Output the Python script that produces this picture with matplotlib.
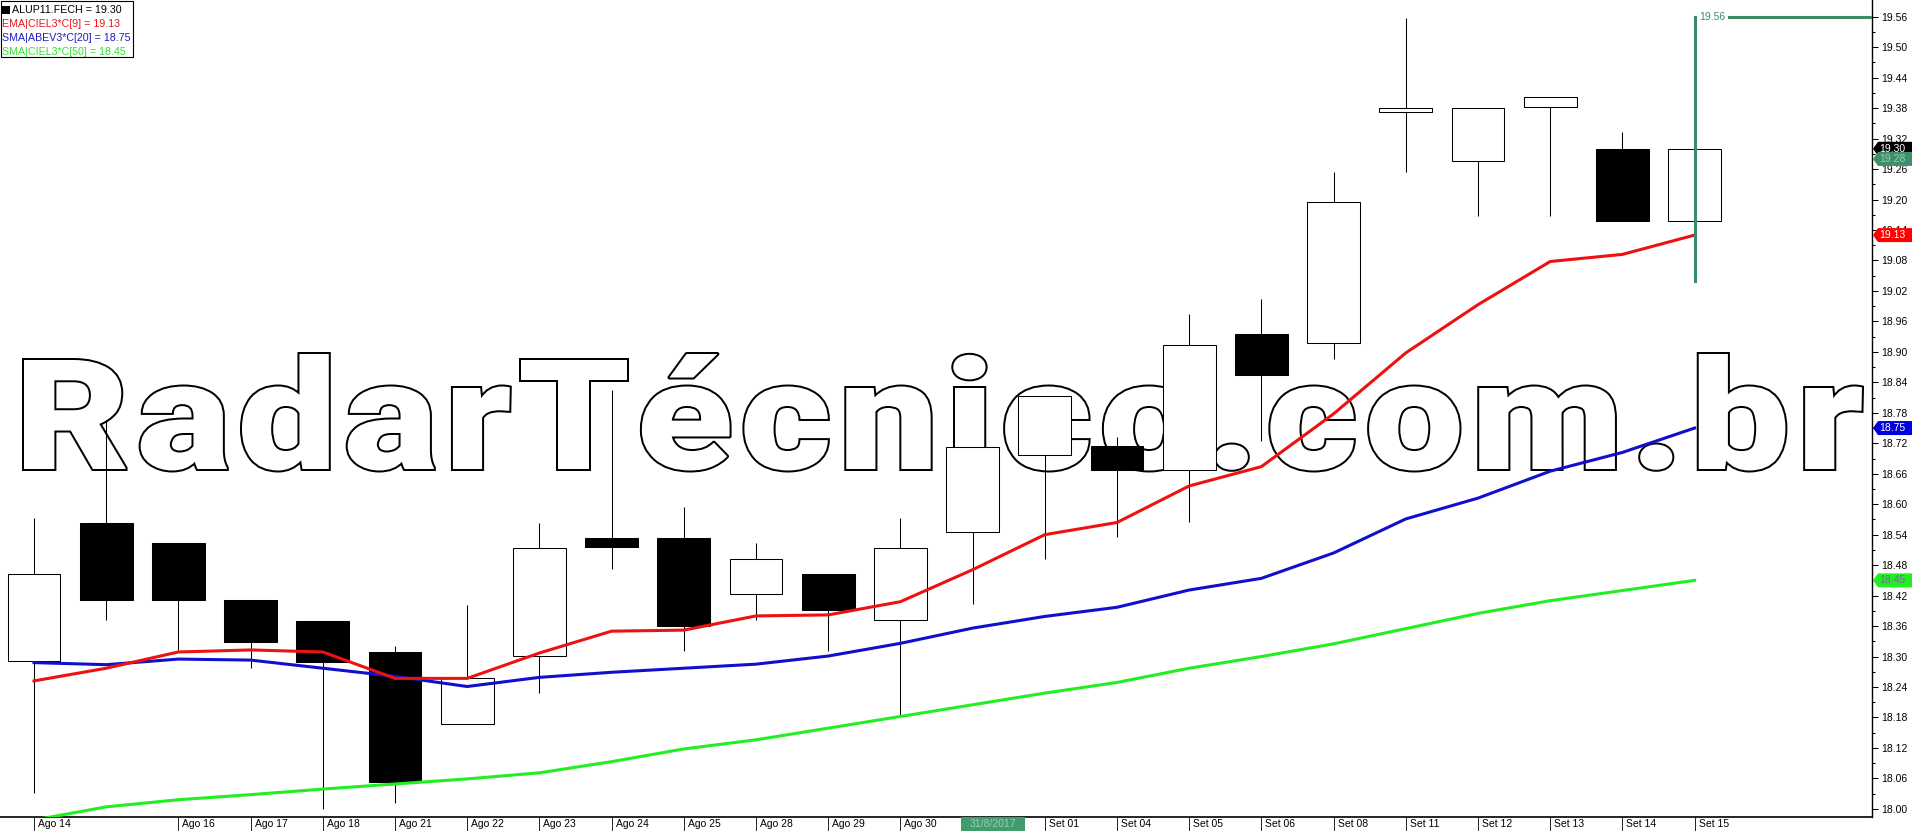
import os
import matplotlib
matplotlib.use('Agg')
import matplotlib.pyplot as plt
import numpy as np
from matplotlib.patches import Polygon, Rectangle, PathPatch
from matplotlib.textpath import TextPath
from matplotlib.font_manager import FontProperties, fontManager, get_font, findfont
from matplotlib.transforms import Affine2D

# dias (pregoes) e precos OHLC
datas = ['Ago 14', 'Ago 15', 'Ago 16', 'Ago 17', 'Ago 18', 'Ago 21', 'Ago 22', 'Ago 23',
         'Ago 24', 'Ago 25', 'Ago 28', 'Ago 29', 'Ago 30', 'Ago 31', 'Set 01', 'Set 04',
         'Set 05', 'Set 06', 'Set 08', 'Set 11', 'Set 12', 'Set 13', 'Set 14', 'Set 15']
abertura = [18.291, 18.563, 18.524, 18.412, 18.370, 18.309, 18.167, 18.301, 18.534, 18.533,
            18.423, 18.463, 18.372, 18.545, 18.697, 18.714, 18.667, 18.935, 18.917, 19.373,
            19.275, 19.383, 19.300, 19.158]
fechamento = [18.462, 18.412, 18.412, 18.329, 18.290, 18.052, 18.257, 18.513, 18.515, 18.361,
              18.492, 18.392, 18.513, 18.713, 18.814, 18.667, 18.913, 18.855, 19.196, 19.380,
              19.380, 19.401, 19.158, 19.300]
maxima = [18.572, 18.766, 18.524, 18.412, 18.370, 18.320, 18.402, 18.563, 18.825, 18.595,
          18.523, 18.463, 18.573, 18.713, 18.814, 18.733, 18.975, 19.004, 19.255, 19.558,
          19.380, 19.401, 19.333, 19.300]
minima = [18.031, 18.371, 18.313, 18.278, 18.000, 18.011, 18.167, 18.228, 18.473, 18.310,
          18.371, 18.310, 18.185, 18.403, 18.493, 18.535, 18.564, 18.725, 18.886, 19.255,
          19.168, 19.168, 19.158, 19.158]

# medias moveis
ema9 = [18.252, 18.277, 18.309, 18.313, 18.309, 18.257, 18.257, 18.307, 18.350, 18.352,
        18.380, 18.382, 18.408, 18.471, 18.540, 18.564, 18.636, 18.674, 18.778, 18.898,
        18.993, 19.078, 19.092, 19.130]
sma20 = [18.288, 18.284, 18.295, 18.293, 18.277, 18.261, 18.241, 18.259, 18.269, 18.277,
         18.285, 18.301, 18.326, 18.356, 18.379, 18.397, 18.431, 18.454, 18.504, 18.571,
         18.612, 18.665, 18.702, 18.750]
sma50 = [17.978, 18.004, 18.018, 18.028, 18.039, 18.049, 18.059, 18.071, 18.093, 18.118,
         18.136, 18.159, 18.182, 18.205, 18.228, 18.249, 18.277, 18.300, 18.325, 18.355,
         18.385, 18.410, 18.430, 18.450]

# linha do cursor (verde escuro) e valores das etiquetas
cursor_baixo = 19.039
cursor_topo = 19.56
etiquetas = [('19.30', 19.30, 'black', 'white'),
             ('19.28', 19.28, '#3f8f6b', '#9cc9b0'),
             ('19.13', 19.13, '#ff0000', 'white'),
             ('18.75', 18.75, '#0000dd', 'white'),
             ('18.45', 18.45, '#22ee22', '#7a6a9a')]
legenda = [('ALUP11.FECH = 19.30', 'black'),
           ('EMA|CIEL3*C[9] = 19.13', '#e8141b'),
           ('SMA|ABEV3*C[20] = 18.75', '#1c1cc4'),
           ('SMA|CIEL3*C[50] = 18.45', '#33e033')]

W, H = 1912, 831
fonte = 'Liberation Sans'
fig = plt.figure(figsize=(W / 100, H / 100), dpi=100)
fig.patch.set_facecolor('white')
ax = fig.add_axes([0, 14 / H, 1872 / W, 817 / H])
pix = Affine2D().scale(1 / fig.dpi) + fig.dpi_scale_trans   # pixels a partir do canto inferior
PT = 72 / fig.dpi   # px -> pt

idx = np.arange(len(datas))
o = np.array(abertura)
c = np.array(fechamento)
sobe = c >= o

# candles
ax.vlines(idx, minima, maxima, color='black', lw=0.75, zorder=3)
ax.bar(idx, np.abs(c - o), bottom=np.minimum(o, c), width=0.73,
       color=np.where(sobe, 'white', 'black'), edgecolor='black', linewidth=0.75, zorder=4)

# medias
ax.plot(idx, sma50, color='#22ee22', lw=2.2, zorder=5)
ax.plot(idx, sma20, color='#1010cc', lw=2.2, zorder=5)
ax.plot(idx, ema9, color='#ee1111', lw=2.2, zorder=5)

# linha verde do cursor
verde = '#3d8c68'
ax.plot([idx[-1], idx[-1]], [cursor_baixo, cursor_topo], color=verde, lw=2.2, zorder=6)
ax.plot([idx[-1] + 0.48, 25.5], [cursor_topo, cursor_topo], color=verde, lw=2.2, zorder=6)
ax.text(idx[-1] + 0.07, cursor_topo, '%.2f' % cursor_topo, color=verde, fontsize=7.5,
        family=fonte, va='center', ha='left', zorder=6)

ax.set_xlim(-0.471, 25.457)
ax.set_ylim(17.984, 19.593)

# eixo y a direita
ax.yaxis.tick_right()
ax.set_yticks(np.arange(18.00, 19.57, 0.06))
ax.set_yticks(np.arange(18.03, 19.57, 0.06), minor=True)
ax.yaxis.set_major_formatter(plt.FormatStrFormatter('%.2f'))
ax.tick_params(axis='y', which='major', length=4.3, width=0.75, pad=2, labelsize=7.5)
ax.tick_params(axis='y', which='minor', length=2.2, width=0.75)
for t in ax.get_yticklabels():
    t.set_family(fonte)

# eixo x: marcas em cada pregao (menos Ago 15)
xt = [i for i in idx if i != 1]
ax.set_xticks(xt)
ax.set_xticklabels([])
ax.tick_params(axis='x', which='major', length=10, width=0.6, direction='out')
for s in ['top', 'left']:
    ax.spines[s].set_visible(False)
ax.spines['bottom'].set_linewidth(1.2)
ax.spines['right'].set_linewidth(1.0)

for i in xt:
    if i == 13:
        continue
    xp = ax.transData.transform((i, 0))[0]
    fig.text(xp + 4, 7, datas[i], transform=pix, fontsize=7.5, family=fonte,
             va='center', ha='left')
# data do cursor
xc = ax.transData.transform((13.28, 0))[0]
fig.add_artist(Rectangle((xc - 32, 0), 64, 14, transform=pix, facecolor='#3f9c6c',
                         edgecolor='none', zorder=3))
fig.text(xc, 7, '31/8/2017', transform=pix, fontsize=7.5, family=fonte, color='#9fcfb5',
         va='center', ha='center', zorder=4)


# marca d'agua: a fonte sem serifa mais pesada instalada (aspecto de Arial Black)
PESOS = {'ultralight': 200, 'light': 300, 'normal': 400, 'regular': 400, 'book': 400,
         'roman': 400, 'medium': 500, 'semibold': 600, 'demibold': 600, 'demi': 600,
         'bold': 700, 'extra bold': 800, 'heavy': 800, 'black': 900}


def peso(f):
    w = f.weight
    if isinstance(w, str):
        return PESOS.get(w.lower(), 400)
    return int(w)


prefs = ['Liberation Sans', 'Roboto', 'Inter', 'Noto Sans', 'Open Sans', 'Lato', 'DejaVu Sans']
melhor, arq = None, None
for f in fontManager.ttflist:
    nome_arq = os.path.basename(f.fname).lower()
    if f.name not in prefs or f.style != 'normal':
        continue
    if any(p in nome_arq for p in ('italic', 'oblique', 'condensed', 'narrow', 'mono')):
        continue
    chave = (min(peso(f), 900), -prefs.index(f.name))
    if melhor is None or chave > melhor:
        melhor, arq = chave, f.fname
if arq is None:
    arq = findfont(FontProperties(family=fonte, weight='bold'))
prop = FontProperties(fname=arq)

ALT, HASTE, CONT, LARG = 113.0, 32.0, 2.0, 181.0
eI = TextPath((0, 0), 'I', size=100, prop=prop).get_extents()
s0, c0 = eI.width / 100, eI.height / 100
wad = sum(TextPath((0, 0), ch, size=100, prop=prop).get_extents().width for ch in 'ad') / 100
K = 1.0
for _ in range(8):
    EM = (ALT - HASTE) / (c0 - s0 * K)
    D = (HASTE - s0 * EM * K) / 2
    D = min(max(D, CONT), 6.0)
    EM = (ALT - 2 * D) / c0
    K = float(np.clip((LARG - 4 * D) / (wad * EM), 0.85, 1.3))

ft = get_font(arq)
ft.set_size(EM, 72)
texto = 'RadarTécnico.com.br'
avancos = []
for ch in texto:
    g = ft.load_char(ord(ch))
    avancos.append(K * g.linearHoriAdvance / 65536)
lsb = K * TextPath((0, 0), texto[0], size=EM, prop=prop).get_extents().x0
rdir = K * TextPath((0, 0), texto[-1], size=EM, prop=prop).get_extents().x1
x0 = 22 + D - lsb
esp = (1864 - D - x0 - sum(avancos[:-1]) - rdir) / (len(texto) - 1)
base = H - 471 + D
x = x0
for k, ch in enumerate(texto):
    tp = TextPath((0, 0), ch, size=EM, prop=prop)
    tr = Affine2D().scale(K, 1).translate(x, base) + pix
    junta = 'round' if ch == 'é' else 'miter'
    ax.add_artist(PathPatch(tp, transform=tr, facecolor='black', edgecolor='black',
                            lw=2 * D * PT, joinstyle=junta, zorder=2))
    ax.add_artist(PathPatch(tp, transform=tr, facecolor='white', edgecolor='white',
                            lw=2 * (D - CONT) * PT, joinstyle=junta, zorder=2.1))
    x += avancos[k] + esp

# etiquetas de preco no eixo
hh = 7
for txt, val, cor, cortxt in etiquetas:
    yp = ax.transData.transform((0, val))[1]
    poly = Polygon([(1873, yp), (1878, yp + hh), (W + 2, yp + hh), (W + 2, yp - hh),
                    (1878, yp - hh)], closed=True, transform=pix, facecolor=cor,
                   edgecolor='none', zorder=5)
    fig.add_artist(poly)
    fig.text(1879, yp, txt, transform=pix, fontsize=7.5, family=fonte, color=cortxt,
             va='center', ha='left', zorder=6)

# legenda no canto superior esquerdo
fig.add_artist(Rectangle((1, H - 57), 132, 56, transform=pix, facecolor='white',
                         edgecolor='black', lw=0.8, zorder=5))
fig.add_artist(Rectangle((2, H - 14), 8, 8, transform=pix, facecolor='black',
                         edgecolor='none', zorder=6))
for k, (txt, cor) in enumerate(legenda):
    xl = 12 if k == 0 else 2
    fig.text(xl, H - (10 + 14 * k), txt, transform=pix, fontsize=7.7, family=fonte,
             color=cor, va='center', ha='left', zorder=6)

fig.savefig('out.png', dpi=100, facecolor='white')
